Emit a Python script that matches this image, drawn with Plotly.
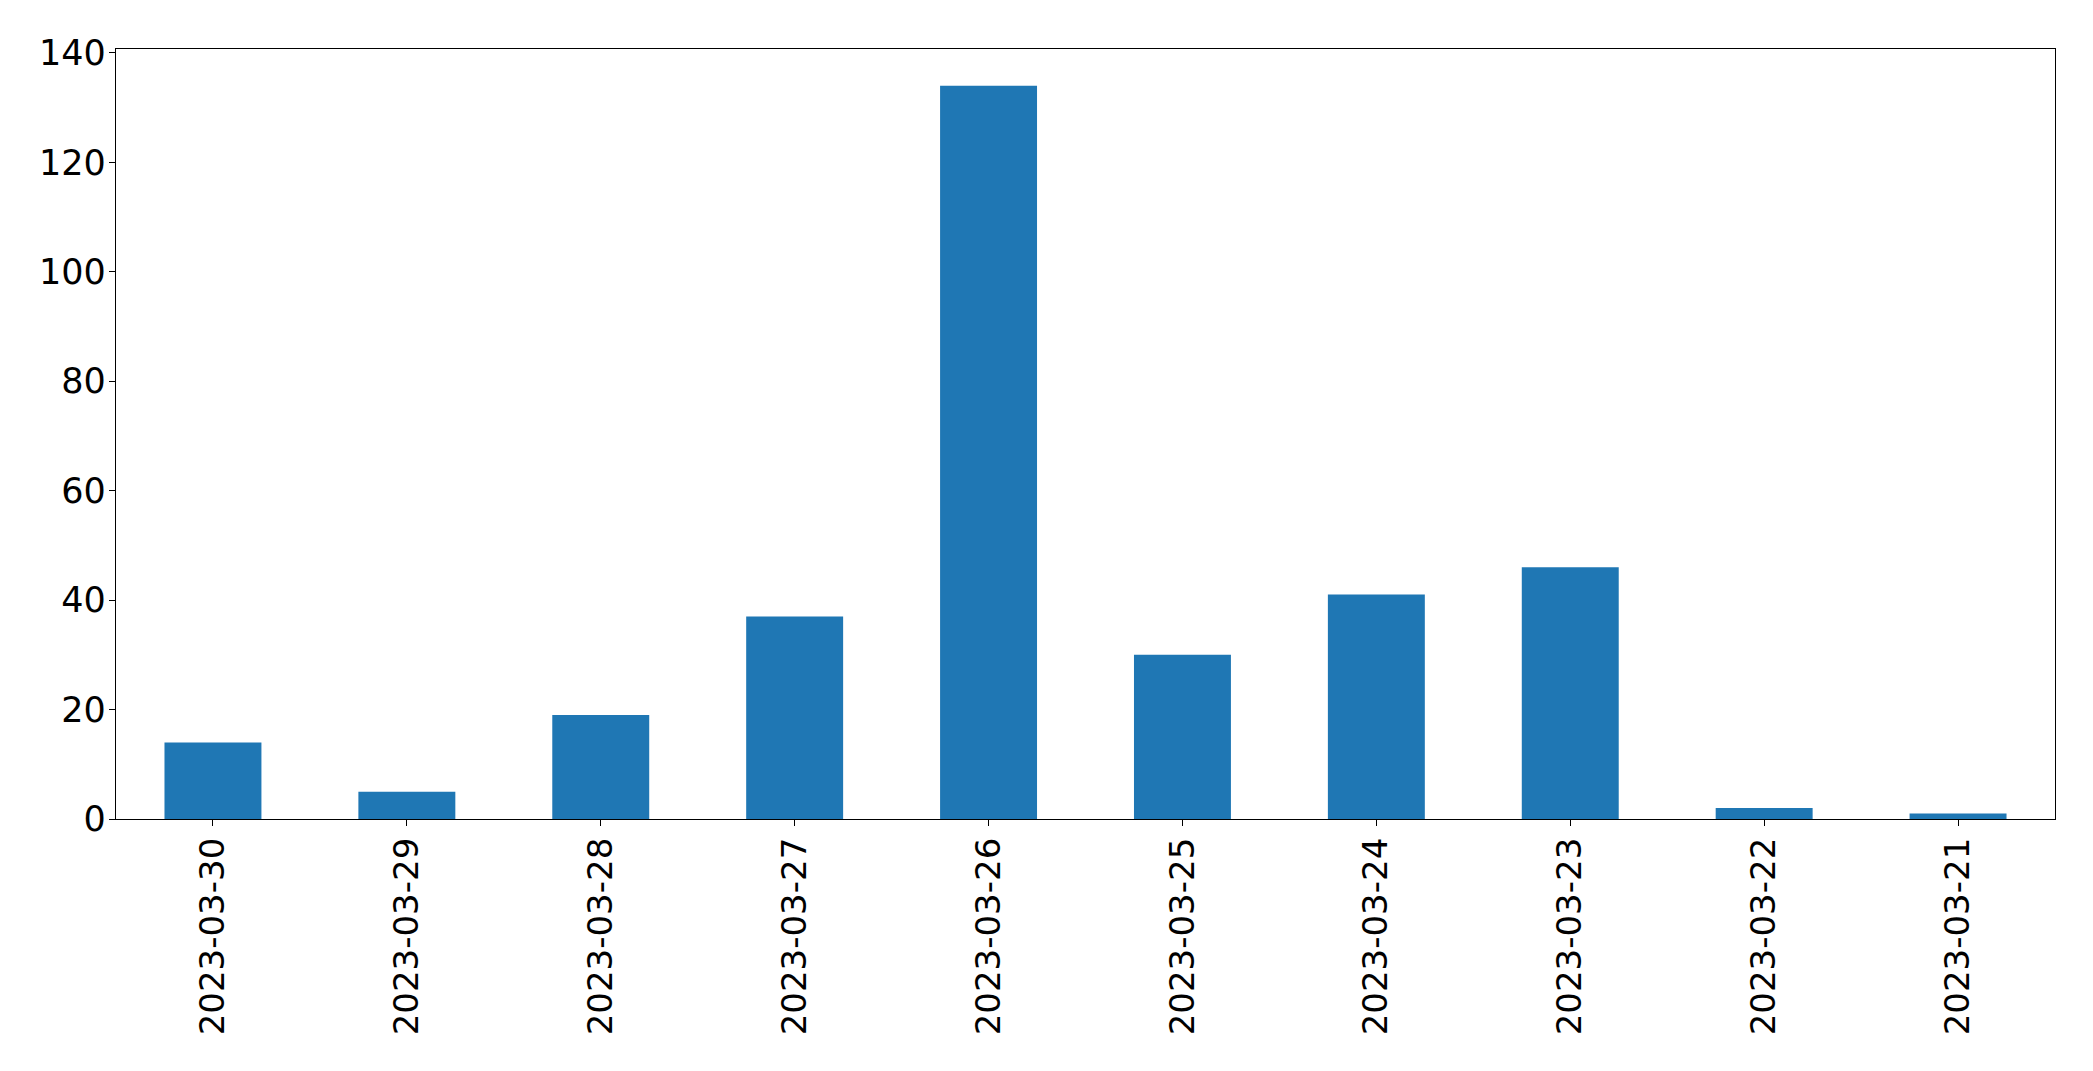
import plotly.graph_objects as go

dates = ["2023-03-30", "2023-03-29", "2023-03-28", "2023-03-27", "2023-03-26",
         "2023-03-25", "2023-03-24", "2023-03-23", "2023-03-22", "2023-03-21"]
counts = [14, 5, 19, 37, 134, 30, 41, 46, 2, 1]
y_ticks = [0, 20, 40, 60, 80, 100, 120, 140]

fig = go.Figure(go.Bar(x=dates, y=counts, width=0.5, marker=dict(color="#1f77b4", line=dict(width=0))))

fig.update_layout(
    width=2093, height=1071,
    margin=dict(l=116, r=38, t=49, b=252),
    plot_bgcolor="white", paper_bgcolor="white",
    font=dict(family="DejaVu Sans", size=34, color="black"),
    showlegend=False,
)
fig.update_xaxes(
    type="category", range=[-0.5, 9.5],
    tickangle=-90, ticks="outside", ticklen=6, tickwidth=1.3, tickcolor="black",
    showline=True, linecolor="black", linewidth=1.3, mirror=True,
    showgrid=False, zeroline=False, ticklabelstandoff=-2,
)
fig.update_yaxes(
    range=[0, 140.7], tickvals=y_ticks, tickfont=dict(size=35),
    ticks="outside", ticklen=6, tickwidth=1.3, tickcolor="black",
    showline=True, linecolor="black", linewidth=1.3, mirror=True,
    showgrid=False, zeroline=False, ticklabelstandoff=-4,
)

fig.write_html("out.html")
